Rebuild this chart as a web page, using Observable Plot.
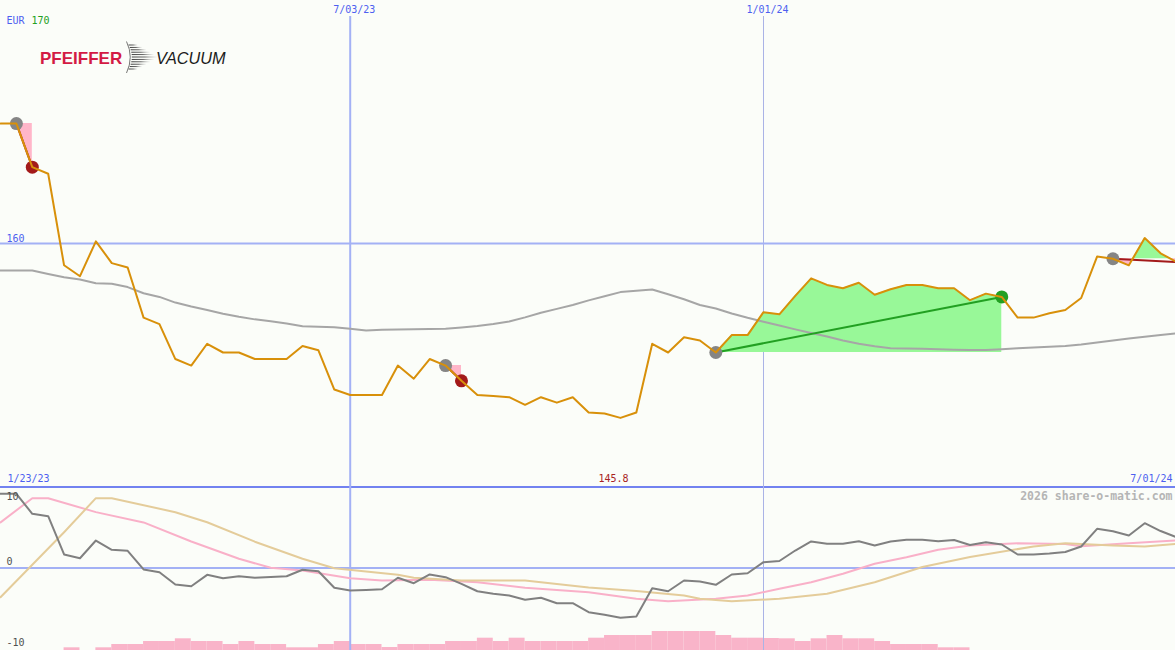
<!DOCTYPE html>
<html>
<head>
<meta charset="utf-8">
<script src="https://cdn.jsdelivr.net/npm/d3@7"></script>
<script src="https://cdn.jsdelivr.net/npm/@observablehq/plot@0.6"></script>
<style>
  html, body { margin: 0; padding: 0; background: #fbfdf9; }
  #wrap { position: relative; width: 1175px; height: 650px; background: #fbfdf9; overflow: hidden; }
  #wrap svg { position: absolute; left: 0; top: 0; }
  #sep { position: absolute; left: 0; top: 486px; width: 1175px; height: 2px; background: #7282f0; }
</style>
</head>
<body>
<div id="wrap"><div id="sep"></div></div>
<script>
// ---------- DATA ----------
const firstWeek = "2023-01-30";           // weekly closes, one per week
const price = [165.5,165.5,163.5,163.2,159.0,158.5,160.1,159.1,158.9,156.6,
  156.3,154.7,154.4,155.4,155.0,155.0,154.7,154.7,154.7,155.3,
  155.1,153.3,153.05,153.05,153.05,154.4,153.8,154.7,154.4,153.7,
  153.05,153.0,152.95,152.6,152.95,152.7,152.95,152.25,152.2,152.0,
  152.25,155.4,155.0,155.7,155.55,155.0,155.8,155.8,156.85,156.75,
  157.6,158.4,158.1,157.95,158.2,157.65,157.9,158.1,158.1,157.95,
  157.95,157.4,157.7,157.55,156.6,156.6,156.8,156.95,157.5,159.4,
  159.3,159.0,160.25,159.55,159.15];
const movingAvg = [158.76,158.76,158.76,158.6,158.45,158.35,158.18,158.15,158.0,157.72,
  157.55,157.29,157.11,156.95,156.78,156.64,156.52,156.43,156.33,156.2,
  156.18,156.16,156.09,156.01,156.04,156.06,156.07,156.08,156.09,156.15,
  156.22,156.31,156.42,156.61,156.82,157.0,157.18,157.39,157.58,157.77,
  157.83,157.89,157.67,157.44,157.18,157.02,156.79,156.59,156.41,156.24,
  156.06,155.89,155.73,155.55,155.4,155.29,155.2,155.18,155.17,155.15,
  155.13,155.12,155.12,155.15,155.19,155.23,155.26,155.3,155.37,155.46,
  155.55,155.64,155.72,155.8,155.88];
const momentum = [10.1,10.1,7.37,7.05,1.84,1.33,3.74,2.48,2.34,-0.2,
  -0.57,-2.24,-2.48,-0.93,-1.39,-1.12,-1.33,-1.22,-1.12,-0.24,
  -0.44,-2.69,-3.06,-2.99,-2.9,-1.33,-2.07,-0.88,-1.25,-2.15,
  -3.16,-3.51,-3.74,-4.33,-4.05,-4.79,-4.79,-6.01,-6.37,-6.78,
  -6.6,-2.75,-3.16,-1.7,-1.84,-2.29,-0.88,-0.71,0.79,0.95,
  2.38,3.61,3.29,3.29,3.65,3.06,3.61,3.84,3.84,3.65,
  3.81,3.13,3.51,3.2,1.84,1.84,1.97,2.18,2.93,5.33,
  5.01,4.42,6.1,5.03,4.19];
const pinkWeeks = [0,2,3,6,9,12,15,17,19,22,24,27,30,33,37,40,42,45,47,49,51,53,55,57,59,61,64,67,68,71,74];
const pinkVals  = [6.2,9.5,9.5,7.6,6.2,3.6,1.25,0.03,-0.34,-1.39,-1.7,-1.61,-1.93,-2.69,-3.31,-4.19,-4.52,-4.19,-3.74,-2.83,-1.93,-0.79,0.57,1.47,2.48,3.06,3.36,3.27,2.95,3.37,3.74];
const tanWeeks = [0,2,4,6,7,11,13,16,19,21,23,25,26,29,33,37,40,43,44,46,49,52,55,58,61,65,67,70,72,74];
const tanVals  = [-3.97,0.44,4.87,9.5,9.5,7.59,6.23,3.58,1.25,-0.03,-0.48,-0.93,-1.33,-1.7,-1.7,-2.65,-3.13,-3.74,-4.19,-4.52,-4.19,-3.51,-1.93,0.14,1.5,2.93,3.37,3.06,2.93,3.29];
const volume = [0,0,0,0,2.7,0,2.7,6,6,9,
  9,11.7,9,9,6,9,6,6,2.7,2.7,
  6,9,6,6,3,6,6,6,9,9,
  12.3,9,12.3,9,9,9,9,12.3,15,15,
  15,19,19,19,19,15,12.3,12.3,12,11.7,
  9,11.7,15,11.7,11.7,9,6,6,6,2.7,
  2.7,0,0,0,0,0,0,0,0,0,
  0,0,0,0,0];
const tradeEntryWeek = [1, 28, 45, 70];
const tradeExitWeek  = [2, 29, 63, 74];
const tradeOpen      = [false, false, false, true];
const gridDates  = ["2023-07-03", "2024-01-01"];
const gridLabels = ["7/03/23", "1/01/24"];
const priceTicks = [170, 160];
const oscTicks   = [10, 0, -10];
const startLabel = "1/23/23";
const endLabel   = "7/01/24";
const lowLabel   = "145.8";
const currency   = "EUR";
const watermark  = "2026 share-o-matic.com";

// ---------- BUILD ----------
const t0 = new Date(firstWeek + "T00:00:00Z");
const dates = price.map((_, i) => d3.utcDay.offset(t0, 7 * i));
const gDates = gridDates.map(s => new Date(s + "T00:00:00Z"));
const rows = price.map((p, i) => ({date: dates[i], price: p, ma: movingAvg[i], mom: momentum[i]}));
const pinkRows = pinkWeeks.map((w, k) => ({date: dates[w], v: pinkVals[k]}));
const tanRows = tanWeeks.map((w, k) => ({date: dates[w], v: tanVals[k]}));
const volRows = volume.map((v, i) => ({d0: dates[i], d1: d3.utcDay.offset(dates[i], 7), v})).filter(d => d.v > 0);

const trades = tradeEntryWeek.map((a, k) => {
  const b = tradeExitWeek[k], entry = price[a];
  const pts = [];
  for (let i = a; i <= b; i++) {
    pts.push({date: dates[i], p: price[i]});
    if (i < b) {
      const p0 = price[i] - entry, p1 = price[i + 1] - entry;
      if (p0 * p1 < 0) {
        const t = p0 / (p0 - p1);
        pts.push({date: new Date(+dates[i] + t * (dates[i + 1] - dates[i])), p: entry});
      }
    }
  }
  return {a, b, entry, exit: price[b], open: tradeOpen[k], pts, gain: price[b] > entry};
});

const W = 1175, H = 650;
const mono = "'DejaVu Sans Mono', monospace";
const xOpts = {type: "utc", domain: [dates[0], dates[48], dates[74]], range: [0, 763, 1176], axis: null};
const GREEN_FILL = "#98f898", PINK_FILL = "#ffb6c9";
const GREEN = "#22a022", RED = "#a31a1a", BLUE_TXT = "#4d5ff0";

// volume bars (bottom layer)
const volPlot = Plot.plot({
  width: W, height: H, margin: 0,
  x: xOpts, y: {domain: [0, 20], range: [650, 630], axis: null},
  style: {background: "transparent"},
  marks: [
    Plot.rect(volRows, {x1: "d0", x2: "d1", y1: () => 0, y2: "v", fill: "#f9b4c9"})
  ]
});

// upper price panel
const fillMarks = [];
trades.forEach(tr => {
  fillMarks.push(Plot.areaY(tr.pts, {x: "date", y1: () => tr.entry, y2: d => Math.max(d.p, tr.entry), fill: GREEN_FILL}));
  fillMarks.push(Plot.areaY(tr.pts, {x: "date", y1: () => tr.entry, y2: d => Math.min(d.p, tr.entry), fill: PINK_FILL}));
});
const tradeLines = trades.map(tr => ({x1: dates[tr.a], y1: tr.entry, x2: dates[tr.b], y2: tr.exit, gain: tr.gain}));
const entryDots = trades.map(tr => ({date: dates[tr.a], p: tr.entry}));
const exitDots = trades.filter(tr => !tr.open).map(tr => ({date: dates[tr.b], p: tr.exit, gain: tr.gain}));

const topPlot = Plot.plot({
  width: W, height: H, marginTop: 16, marginBottom: 0, marginLeft: 0, marginRight: 0,
  x: xOpts, y: {domain: [160, 170], range: [243, 25], axis: null},
  style: {background: "transparent", fontFamily: mono, fontSize: "10px"},
  marks: [
    Plot.ruleX([gDates[0]], {stroke: "#a3b1f5", strokeWidth: 2}),
    Plot.ruleX([gDates[1]], {stroke: "#aab3e6", strokeWidth: 1}),
    Plot.ruleY([priceTicks[1]], {stroke: "#a3b1f5", strokeWidth: 2}),
    ...fillMarks,
    Plot.line(rows, {x: "date", y: "ma", stroke: "#a6a6a6", strokeWidth: 2}),
    Plot.link(tradeLines, {x1: "x1", y1: "y1", x2: "x2", y2: "y2", stroke: d => d.gain ? GREEN : RED, strokeWidth: 2}),
    Plot.dot(entryDots, {x: "date", y: "p", r: 6.5, fill: "#858585"}),
    Plot.dot(exitDots, {x: "date", y: "p", r: 6.5, fill: d => d.gain ? GREEN : RED}),
    Plot.line(rows, {x: "date", y: "price", stroke: "#d8900a", strokeWidth: 2}),
    Plot.text(gDates, {x: d => d, text: (d, i) => gridLabels[i], frameAnchor: "top", lineAnchor: "middle", dy: -7, dx: 4, fill: BLUE_TXT}),
    Plot.text([priceTicks[0]], {y: d => d, text: () => currency, frameAnchor: "left", textAnchor: "start", lineAnchor: "middle", dx: 6, dy: -5, fill: BLUE_TXT}),
    Plot.text([priceTicks[0]], {y: d => d, text: d => String(d), frameAnchor: "left", textAnchor: "start", lineAnchor: "middle", dx: 31, dy: -5, fill: GREEN}),
    Plot.text([priceTicks[1]], {y: d => d, text: d => String(d), frameAnchor: "left", textAnchor: "start", lineAnchor: "middle", dx: 6, dy: -5, fill: BLUE_TXT})
  ]
});

// lower oscillator panel
const lowPlot = Plot.plot({
  width: W, height: H, marginTop: 488, marginBottom: 0, marginLeft: 0, marginRight: 0,
  x: xOpts, y: {domain: [-10, 10], range: [641, 494], axis: null},
  style: {background: "transparent", fontFamily: mono, fontSize: "10px"},
  marks: [
    Plot.ruleY([0], {stroke: "#a3b1f5", strokeWidth: 2}),
    Plot.line(pinkRows, {x: "date", y: "v", stroke: "#f9b0c8", strokeWidth: 2}),
    Plot.line(tanRows, {x: "date", y: "v", stroke: "#e4cc9a", strokeWidth: 2}),
    Plot.line(rows, {x: "date", y: "mom", stroke: "#808080", strokeWidth: 2}),
    Plot.text([oscTicks[0]], {y: d => d, text: d => String(d), frameAnchor: "left", textAnchor: "start", lineAnchor: "middle", dx: 6, dy: 2.5, fill: "#505050"}),
    Plot.text([oscTicks[1]], {y: d => d, text: d => String(d), frameAnchor: "left", textAnchor: "start", lineAnchor: "middle", dx: 6, dy: -6, fill: "#505050"}),
    Plot.text([oscTicks[2]], {y: d => d, text: d => String(d), frameAnchor: "left", textAnchor: "start", lineAnchor: "middle", dx: 6, dy: 1, fill: "#505050"}),
    Plot.text([startLabel], {text: d => d, frameAnchor: "top-left", textAnchor: "start", lineAnchor: "middle", dx: 7, dy: -9.5, fill: BLUE_TXT}),
    Plot.text([endLabel], {text: d => d, frameAnchor: "top-right", textAnchor: "end", lineAnchor: "middle", dx: -3, dy: -9.5, fill: BLUE_TXT}),
    Plot.text([lowLabel], {text: d => d, frameAnchor: "top-left", textAnchor: "middle", lineAnchor: "middle", dx: 613, dy: -9.5, fill: "#a82222"}),
    Plot.text([watermark], {text: d => d, frameAnchor: "top-right", textAnchor: "end", lineAnchor: "middle", dx: -3, dy: 7.5, fill: "#b5b5b5", fontWeight: "bold", fontSize: 11.5})
  ]
});

const wrap = document.getElementById("wrap");
wrap.insertBefore(volPlot, wrap.firstChild);
wrap.appendChild(topPlot);
wrap.appendChild(lowPlot);

// logo (decorative)
const ns = "http://www.w3.org/2000/svg";
const logo = document.createElementNS(ns, "svg");
logo.setAttribute("width", 240); logo.setAttribute("height", 90);
logo.style.position = "absolute"; logo.style.left = "0"; logo.style.top = "0";
let inner = `<defs><linearGradient id="sw" x1="0" x2="1" y1="0" y2="0"><stop offset="0" stop-color="#2a2a2a"/><stop offset="0.5" stop-color="#555"/><stop offset="1" stop-color="#999" stop-opacity="0"/></linearGradient></defs>`;
inner += `<text x="40" y="64" font-family="'Liberation Sans', Arial, sans-serif" font-weight="bold" font-size="17" fill="#d31a44">PFEIFFER</text>`;
inner += `<path d="M126.5,41.5 Q134,57 126.5,73" fill="none" stroke="#555" stroke-width="0.8"/>`;
for (let yy = 45; yy <= 69; yy += 2.4) {
  const dist = Math.abs(yy - 57) / 13;
  const xs = 127 + 3.8 * (1 - dist * dist) + 1;
  const len = 26 * (1 - dist * 0.7);
  inner += `<rect x="${xs}" y="${yy - 0.45}" width="${len}" height="0.9" fill="url(#sw)"/>`;
}
inner += `<text x="156" y="64" font-family="'Liberation Sans', Arial, sans-serif" font-style="italic" font-size="16.3" fill="#1c1c1c">VACUUM</text>`;
logo.innerHTML = inner;
wrap.appendChild(logo);
</script>
</body>
</html>
